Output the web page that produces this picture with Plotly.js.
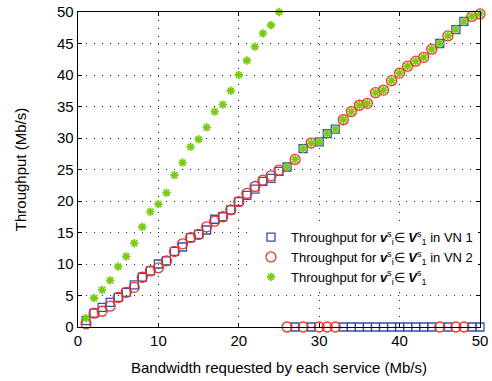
<!DOCTYPE html>
<html><head><meta charset="utf-8">
<script src="https://cdn.plot.ly/plotly-3.0.1.min.js"></script>
<style>html,body{margin:0;padding:0;background:#fff}</style>
</head><body><div id="chart" style="width:492px;height:381px"></div>
<script>
const bandwidth = [1,2,3,4,5,6,7,8,9,10,11,12,13,14,15,16,17,18,19,20,21,22,23,24,25,26,27,28,29,30,31,32,33,34,35,36,37,38,39,40,41,42,43,44,45,46,47,48,49,50];
const vn1 = [1.0,2.2,3.1,3.9,4.7,5.5,6.7,7.9,8.9,10.0,10.5,12.0,12.7,14.2,14.7,15.4,17.1,17.5,18.6,19.9,20.9,21.9,23.1,23.6,24.7,
             25.4,0,28.3,0,29.4,30.7,31.4,0,0,0,0,0,0,0,0,0,0,0,0,45.0,0,47.2,48.5,0,0];
const vn2 = [0.5,2.2,2.5,3.3,4.7,5.5,6.3,7.9,8.9,9.4,10.5,12.0,13.2,14.2,14.7,15.9,16.8,17.5,18.6,19.9,21.2,22.3,23.3,24.0,24.9,
             0,26.6,0,29.2,0,0,0,32.9,34.2,35.2,35.5,37.2,37.6,39.1,40.3,41.4,42.2,42.8,44.1,0,46.2,0,0,49.3,49.7];
const total = [1.4,4.6,5.9,7.4,9.6,11.2,13.3,15.9,18.3,19.5,21.3,24.1,26.1,28.6,29.8,31.7,34.2,35.3,37.5,40.0,42.3,44.5,46.6,47.9,50.0,
             25.4,26.6,28.3,29.2,29.4,30.7,31.4,32.9,34.2,35.2,35.5,37.2,37.6,39.1,40.3,41.4,42.2,42.8,44.1,45.0,46.2,47.2,48.5,49.3,49.7];
const xTicks = [0,10,20,30,40,50];
const yTicks = [0,5,10,15,20,25,30,35,40,45,50];

const FONT = 'Liberation Sans, Arial, sans-serif';
const traces = [
  {x: bandwidth, y: vn1, type:'scatter', mode:'markers', cliponaxis:false, legendgroup:'a',
   name:'Throughput for <b><i>v</i></b><sup>s</sup><sub>i</sub>∈ <b><i>V</i></b><sup>s</sup><sub>1</sub> in VN 1',
   marker:{symbol:'square-open', size:8, color:'#3050b0', line:{width:1.3}}},
  {x: bandwidth, y: vn2, type:'scatter', mode:'markers', cliponaxis:false, legendgroup:'b',
   name:'Throughput for <b><i>v</i></b><sup>s</sup><sub>i</sub>∈ <b><i>V</i></b><sup>s</sup><sub>1</sub> in VN 2',
   marker:{symbol:'circle-open', size:10, color:'#ee3322', line:{width:1.3}}},
  {x: bandwidth, y: total, type:'scatter', mode:'markers', cliponaxis:false, legendgroup:'c',
   name:'Throughput for <b><i>v</i></b><sup>s</sup><sub>i</sub>∈ <b><i>V</i></b><sup>s</sup><sub>1</sub>',
   marker:{symbol:'asterisk-open', size:7, color:'#77cc11', line:{width:1.8, color:'#77cc11'}}}
];
const axisCommon = {showline:true, mirror:'ticks', linecolor:'#000', linewidth:1.3,
  ticks:'inside', ticklen:4, tickcolor:'#000', showgrid:true, gridcolor:'#222', griddash:'1px,7px', gridwidth:1,
  zeroline:false, automargin:false, tickfont:{family:FONT, size:15, color:'#000'}};
const layout = {
  width:492, height:381, margin:{l:78, r:12, t:12, b:54, autoexpand:false},
  paper_bgcolor:'#fff', plot_bgcolor:'#fff', showlegend:true,
  xaxis: Object.assign({}, axisCommon, {range:[0,50], tickvals:xTicks,
    title:{text:'Bandwidth requested by each service (Mb/s)', font:{family:FONT, size:15, color:'#000'}, standoff:14}}),
  yaxis: Object.assign({}, axisCommon, {range:[0,50], tickvals:yTicks,
    title:{text:'Throughput (Mb/s)', font:{family:FONT, size:15, color:'#000'}, standoff:26}}),
  legend:{x:0.995, y:0.333, xanchor:'right', yanchor:'top', bgcolor:'#fff', borderwidth:0,
    font:{family:FONT, size:13, color:'#000'}, tracegroupgap:5, itemwidth:30, traceorder:'normal'}
};
Plotly.newPlot('chart', traces, layout, {displayModeBar:false, staticPlot:true});
</script></body></html>
